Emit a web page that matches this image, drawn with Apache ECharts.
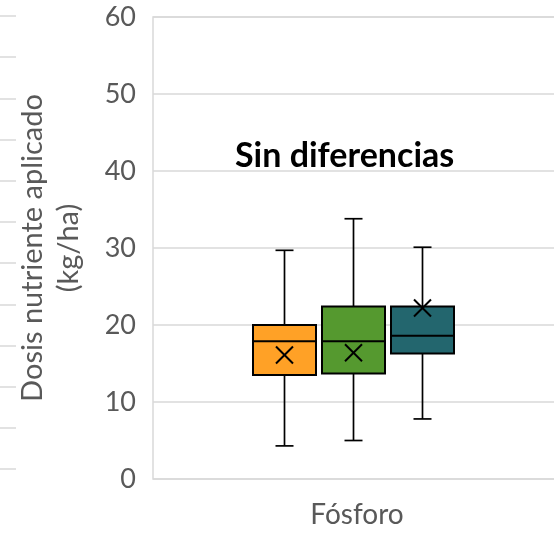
<!DOCTYPE html>
<html>
<head>
<meta charset="utf-8">
<script src="https://cdn.jsdelivr.net/npm/echarts@6/dist/echarts.min.js"></script>
<style>
  html, body { margin: 0; padding: 0; background: #ffffff; }
  #chart { width: 554px; height: 533px; }
</style>
</head>
<body>
<div id="chart"></div>
<script>
// Nutrient: phosphorus dose applied (kg/ha), three groups summarised as box plots
const category = ['Fósforo'];
const groups = ['Grupo 1', 'Grupo 2', 'Grupo 3'];
const mins    = [4.3, 5.0, 7.8];
const q1s     = [13.5, 13.7, 16.3];
const medians = [17.9, 17.9, 18.6];
const q3s     = [20.0, 22.4, 22.4];
const maxs    = [29.7, 33.8, 30.1];
const means   = [16.1, 16.4, 22.2];
const colors  = ['#FFA126', '#55992F', '#23666E'];
const yTicks  = [0, 10, 20, 30, 40, 50, 60];

const FONT = 'Lato';
const GRID_COLOR = '#d9d9d9';

// Box geometry in pixels (within the single category band)
const BOX_W = 63;
const CAP_W = 18;
const STEP = 69;
const SHIFT = -3.5;
const MARK = 8.5;

function renderBox(params, api) {
  const i = api.value(0);
  const cx = api.coord([0, 0])[0] + (i - 1) * STEP + SHIFT;
  const y = v => api.coord([0, v])[1];
  const yMin = y(api.value(1)), yQ1 = y(api.value(2)), yMed = y(api.value(3));
  const yQ3 = y(api.value(4)), yMax = y(api.value(5)), yMean = y(api.value(6));
  const line = { stroke: '#000', lineWidth: 1.7 };
  const thick = { stroke: '#000', lineWidth: 2 };
  const hw = BOX_W / 2, cw = CAP_W / 2;
  return {
    type: 'group',
    children: [
      { type: 'line', shape: { x1: cx, y1: yMax, x2: cx, y2: yQ3 }, style: line },
      { type: 'line', shape: { x1: cx, y1: yQ1, x2: cx, y2: yMin }, style: line },
      { type: 'line', shape: { x1: cx - cw, y1: yMax, x2: cx + cw, y2: yMax }, style: line },
      { type: 'line', shape: { x1: cx - cw, y1: yMin, x2: cx + cw, y2: yMin }, style: line },
      { type: 'rect', shape: { x: cx - hw, y: yQ3, width: BOX_W, height: yQ1 - yQ3 },
        style: { fill: colors[i], stroke: '#000', lineWidth: 2 } },
      { type: 'line', shape: { x1: cx - hw, y1: yMed, x2: cx + hw, y2: yMed }, style: thick },
      { type: 'line', shape: { x1: cx - MARK, y1: yMean - MARK, x2: cx + MARK, y2: yMean + MARK }, style: thick },
      { type: 'line', shape: { x1: cx - MARK, y1: yMean + MARK, x2: cx + MARK, y2: yMean - MARK }, style: thick }
    ]
  };
}

const boxData = groups.map((g, i) => [i, mins[i], q1s[i], medians[i], q3s[i], maxs[i], means[i]]);

const chart = echarts.init(document.getElementById('chart'), null, { renderer: 'canvas' });
chart.setOption({
  animation: false,
  backgroundColor: '#ffffff',
  title: {
    text: 'Sin diferencias',
    left: 230,
    top: 134,
    textStyle: { fontFamily: FONT, fontWeight: 'bold', fontSize: 34, color: '#000000' }
  },
  grid: [
    {
      // plot area runs slightly past the right edge of the canvas
      left: 153, width: 408, top: 17, bottom: 54,
      outerBoundsMode: 'none',
      show: true, borderColor: GRID_COLOR, borderWidth: 1.5
    },
    // neighbouring panel's gridlines peeking in at the left edge
    { left: 0, width: 16, top: 16, height: 453, outerBoundsMode: 'none', show: false }
  ],
  xAxis: [
    {
      type: 'category', gridIndex: 0, data: category,
      axisLine: { show: false }, axisTick: { show: false },
      axisLabel: { margin: 22, fontFamily: FONT, fontSize: 28, color: '#595959' }
    },
    { type: 'value', gridIndex: 1, show: false, min: 0, max: 1 }
  ],
  yAxis: [
    {
      type: 'value', gridIndex: 0, min: 0, max: 60, interval: 10,
      axisLine: { show: false }, axisTick: { show: false },
      splitLine: { lineStyle: { color: GRID_COLOR, width: 1.5 } },
      axisLabel: {
        margin: 17, fontFamily: FONT, fontSize: 27, color: '#595959',
        formatter: v => (yTicks.includes(v) ? String(v) : '')
      },
      name: 'Dosis nutriente aplicado\n(kg/ha)',
      nameLocation: 'middle', nameGap: 66,
      nameTextStyle: { fontFamily: FONT, fontSize: 29, color: '#595959', lineHeight: 36 }
    },
    {
      type: 'value', gridIndex: 1, min: 0, max: 11, interval: 1,
      axisLine: { show: false }, axisTick: { show: false }, axisLabel: { show: false },
      splitLine: { lineStyle: { color: GRID_COLOR, width: 1.5 } }
    }
  ],
  series: [
    {
      type: 'custom',
      xAxisIndex: 0, yAxisIndex: 0,
      renderItem: renderBox,
      encode: { x: 0, y: [1, 2, 3, 4, 5, 6] },
      data: boxData,
      clip: false
    }
  ]
});
</script>
</body>
</html>
